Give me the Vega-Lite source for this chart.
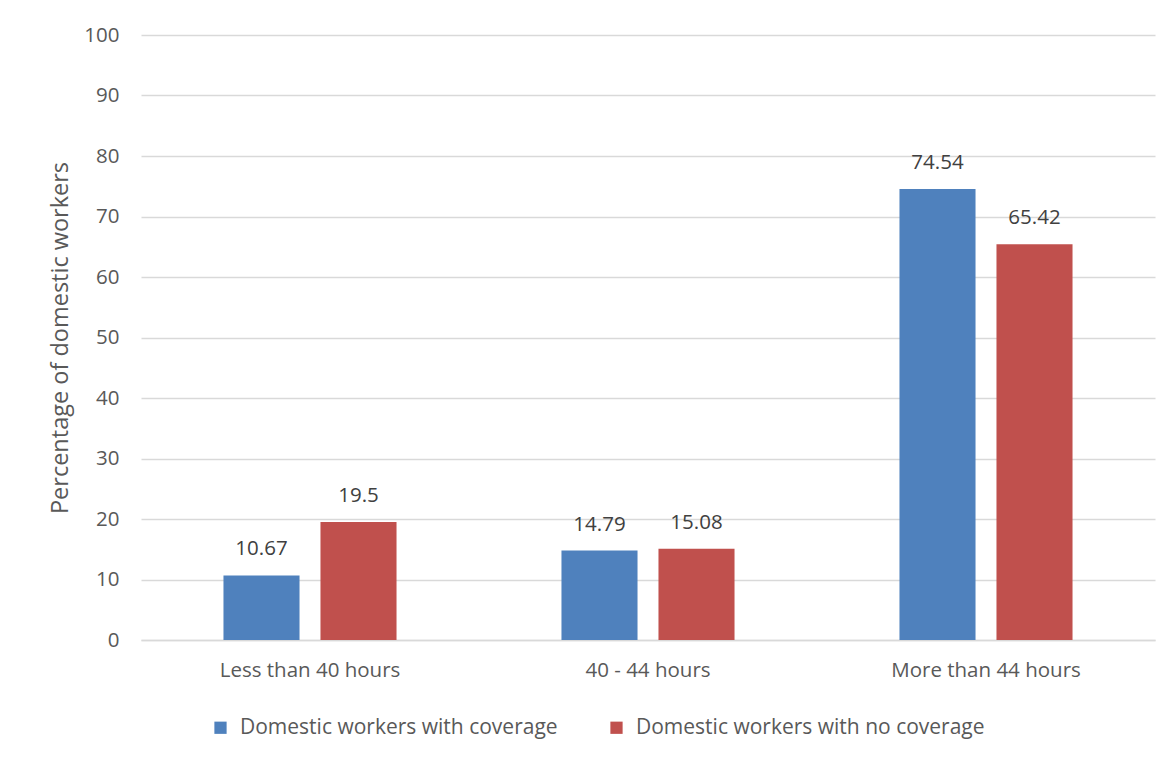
{
  "$schema": "https://vega.github.io/schema/vega-lite/v6.json",
  "width": 1014,
  "height": 605,
  "autosize": {"type": "none"},
  "padding": {"left": 141, "top": 35, "right": 20, "bottom": 121},
  "background": "white",
  "data": {
    "values": [
      {"hours": "Less than 40 hours", "group": "Domestic workers with coverage", "value": 10.67},
      {"hours": "Less than 40 hours", "group": "Domestic workers with no coverage", "value": 19.5},
      {"hours": "40 - 44 hours", "group": "Domestic workers with coverage", "value": 14.79},
      {"hours": "40 - 44 hours", "group": "Domestic workers with no coverage", "value": 15.08},
      {"hours": "More than 44 hours", "group": "Domestic workers with coverage", "value": 74.54},
      {"hours": "More than 44 hours", "group": "Domestic workers with no coverage", "value": 65.42}
    ]
  },
  "config": {
    "font": "Open Sans",
    "view": {"stroke": null},
    "axis": {"labelColor": "#595959", "titleColor": "#595959", "labelFontSize": 20.5, "titleFontSize": 23.5, "titleFontWeight": "normal", "ticks": false, "labelLimit": 400}
  },
  "encoding": {
    "x": {
      "field": "hours", "type": "nominal",
      "sort": ["Less than 40 hours", "40 - 44 hours", "More than 44 hours"],
      "scale": {"paddingInner": 0.488, "paddingOuter": 0.244},
      "axis": {"title": null, "labelAngle": 0, "labelPadding": 20, "domainColor": "#d9d9d9", "domainWidth": 1.5, "grid": false}
    },
    "xOffset": {
      "field": "group", "type": "nominal",
      "scale": {"paddingInner": 0.216, "paddingOuter": 0}
    },
    "y": {
      "field": "value", "type": "quantitative",
      "scale": {"domain": [0, 100], "nice": false},
      "axis": {"title": "Percentage of domestic workers", "values": [0,10,20,30,40,50,60,70,80,90,100], "domain": false, "gridColor": "#d9d9d9", "gridWidth": 1.5, "labelPadding": 22, "titlePadding": 11}
    }
  },
  "layer": [
    {
      "mark": {"type": "bar"},
      "encoding": {
        "color": {
          "field": "group", "type": "nominal",
          "scale": {"range": ["#4f81bd", "#c0504d"]},
          "legend": {
            "title": null, "orient": "none", "direction": "horizontal",
            "legendX": 69, "legendY": 682,
            "symbolType": "square", "symbolSize": 150, "symbolStrokeWidth": 0,
            "labelFontSize": 21, "labelColor": "#595959", "columnPadding": 48, "labelOffset": 9, "labelLimit": 500
          }
        }
      }
    },
    {
      "mark": {"type": "text", "dy": -26, "fontSize": 20.5, "color": "#404040", "baseline": "middle"},
      "encoding": {"text": {"field": "value", "type": "quantitative"}}
    }
  ]
}
